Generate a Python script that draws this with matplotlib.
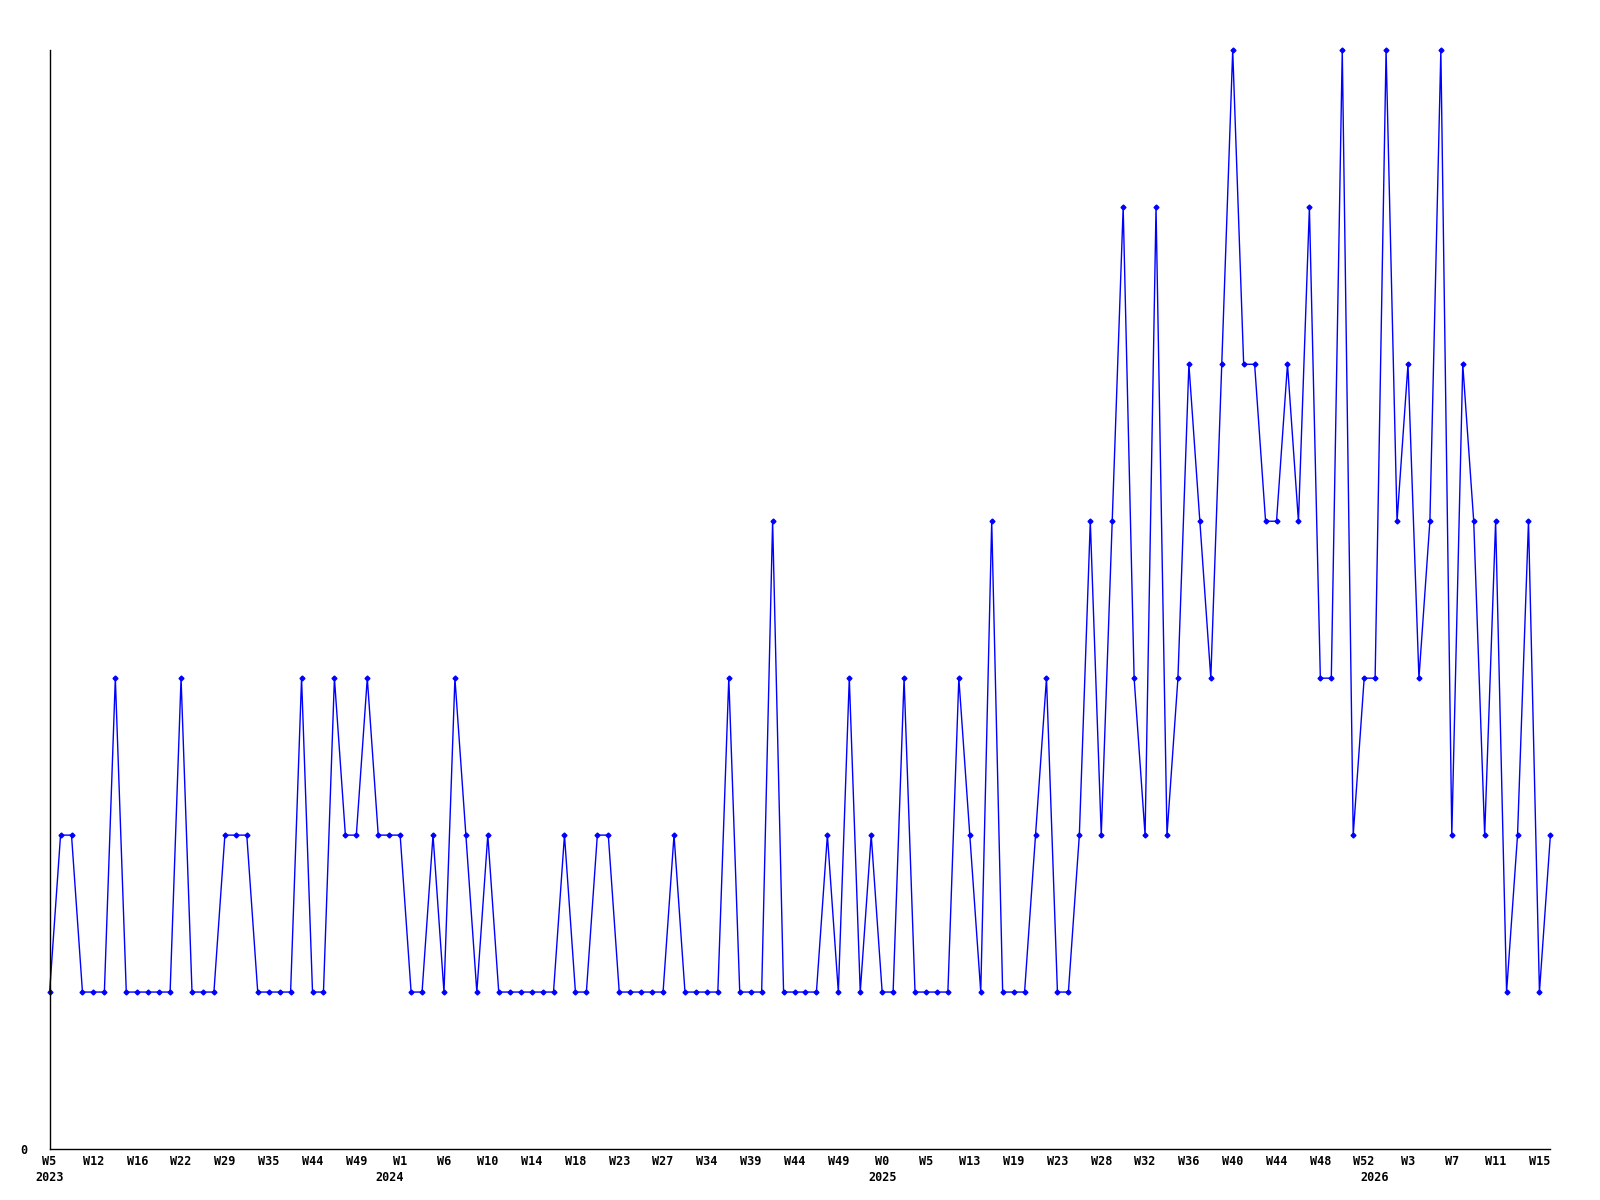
import matplotlib
matplotlib.use("Agg")
import matplotlib.pyplot as plt

# weekly counts
values = [1, 2, 2, 1, 1, 1, 3, 1, 1, 1, 1, 1, 3, 1, 1, 1, 2, 2, 2, 1,
          1, 1, 1, 3, 1, 1, 3, 2, 2, 3, 2, 2, 2, 1, 1, 2, 1, 3, 2, 1,
          2, 1, 1, 1, 1, 1, 1, 2, 1, 1, 2, 2, 1, 1, 1, 1, 1, 2, 1, 1,
          1, 1, 3, 1, 1, 1, 4, 1, 1, 1, 1, 2, 1, 3, 1, 2, 1, 1, 3, 1,
          1, 1, 1, 3, 2, 1, 4, 1, 1, 1, 2, 3, 1, 1, 2, 4, 2, 4, 6, 3,
          2, 6, 2, 3, 5, 4, 3, 5, 7, 5, 5, 4, 4, 5, 4, 6, 3, 3, 7, 2,
          3, 3, 7, 4, 5, 3, 4, 7, 2, 5, 4, 2, 4, 1, 2, 4, 1, 2]

# a label every 4th point
week_labels = ["W5", "W12", "W16", "W22", "W29", "W35", "W44", "W49", "W1",
               "W6", "W10", "W14", "W18", "W23", "W27", "W34", "W39", "W44",
               "W49", "W0", "W5", "W13", "W19", "W23", "W28", "W32", "W36",
               "W40", "W44", "W48", "W52", "W3", "W7", "W11", "W15"]
tick_step = 4

# point where each year starts
years = ["2023", "2024", "2025", "2026"]
year_idx = [0, 31, 76, 121]

mono = "DejaVu Sans Mono"

fig = plt.figure(figsize=(16, 12), dpi=100)
ax = fig.add_axes([0.031, 0.0425, 0.938, 0.9155])

x = list(range(len(values)))
ax.plot(x, values, color="#0000ff", lw=1.0, marker="D", ms=2.5,
        mec="#0000ff", mfc="#0000ff", clip_on=False)

ax.set_xlim(0, len(values) - 1)
ax.set_ylim(0, max(values))

for s in ["top", "right"]:
    ax.spines[s].set_visible(False)
for s in ["left", "bottom"]:
    ax.spines[s].set_color("black")
    ax.spines[s].set_linewidth(1.0)

ax.set_xticks(range(0, len(values), tick_step))
ax.set_xticklabels(week_labels, fontfamily=mono, fontweight="bold", fontsize=8.5)
ax.tick_params(axis="x", length=0, pad=4)

ax.set_yticks([0])
ax.set_yticklabels(["0"], fontfamily=mono, fontweight="bold", fontsize=8.5)
ax.tick_params(axis="y", length=0, pad=16)

for yr, i in zip(years, year_idx):
    ax.annotate(yr, xy=(i, 0), xycoords="data", xytext=(0, -16),
                textcoords="offset points", ha="center", va="top",
                fontfamily=mono, fontweight="bold", fontsize=8.5,
                annotation_clip=False)

fig.savefig("out.png", dpi=100, facecolor="white")
